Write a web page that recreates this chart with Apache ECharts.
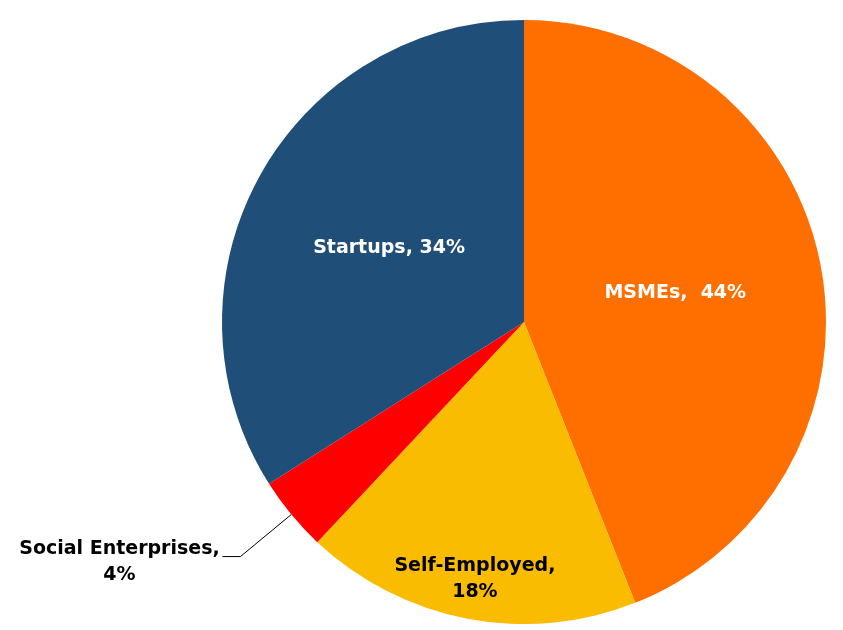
<!DOCTYPE html>
<html><head><meta charset="utf-8">
<script src="https://cdn.jsdelivr.net/npm/echarts@6/dist/echarts.min.js"></script>
<style>html,body{margin:0;padding:0;background:#fff}#c{width:843px;height:630px}</style>
</head><body><div id="c"></div>
<script>
var categories = ['MSMEs', 'Self-Employed', 'Social Enterprises', 'Startups'];
var values = [44, 18, 4, 34];
var colors = ['#FF6F00', '#F9BC00', '#FF0000', '#1F4E79'];

var font = '"DejaVu Sans", Verdana, sans-serif';
var fs = 19;
var chart = echarts.init(document.getElementById('c'));

var mainData = categories.map(function (name, i) {
  var d = { name: name, value: values[i], itemStyle: { color: colors[i] } };
  if (name === 'MSMEs') {
    d.label = { show: true, position: 'inside', color: '#fff', formatter: '{b},  {c}%' };
  } else if (name === 'Startups') {
    d.label = { show: true, position: 'inside', color: '#fff', formatter: '{b}, {c}%' };
  } else if (name === 'Social Enterprises') {
    d.label = {
      show: true, position: 'outside', color: '#000', distanceToLabelLine: 4,
      padding: [10, 0, 0, 0],
      formatter: '{a|{b},}\n{a|{c}%}',
      rich: { a: { width: 198, align: 'center', fontFamily: font, fontWeight: 'bold', fontSize: fs, color: '#000', lineHeight: 26 } }
    };
    d.labelLine = { show: true, length: 66, length2: 18, lineStyle: { color: '#000', width: 1 } };
  } else {
    d.label = { show: false };
  }
  return d;
});

var ringData = categories.map(function (name, i) {
  var d = { name: name, value: values[i], itemStyle: { color: 'rgba(0,0,0,0)' } };
  if (name === 'Self-Employed') {
    d.label = { show: true, position: 'inside', color: '#000', formatter: '{b},\n{c}%', lineHeight: 26 };
  } else {
    d.label = { show: false };
  }
  return d;
});

chart.setOption({
  animation: false,
  backgroundColor: '#fff',
  series: [{
    type: 'pie',
    center: [524, 322],
    radius: [0, 302],
    startAngle: 90,
    clockwise: true,
    avoidLabelOverlap: false,
    label: { fontFamily: font, fontWeight: 'bold', fontSize: fs },
    labelLine: { show: false },
    itemStyle: { borderWidth: 0 },
    emphasis: { disabled: true },
    data: mainData
  }, {
    type: 'pie',
    center: [524, 322],
    radius: [216, 302],
    startAngle: 90,
    clockwise: true,
    silent: true,
    avoidLabelOverlap: false,
    label: { fontFamily: font, fontWeight: 'bold', fontSize: fs },
    labelLine: { show: false },
    itemStyle: { borderWidth: 0 },
    emphasis: { disabled: true },
    data: ringData
  }]
});
</script></body></html>
